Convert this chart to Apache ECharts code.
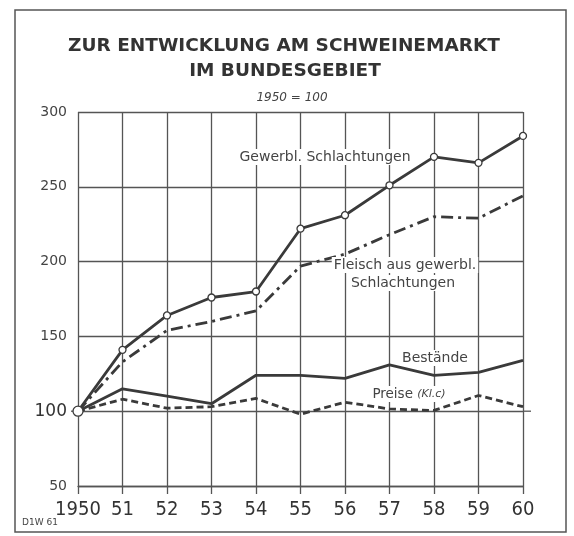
<!DOCTYPE html>
<html><head><meta charset="utf-8">
<script src="https://cdn.jsdelivr.net/npm/echarts@6/dist/echarts.min.js"></script>
<style>html,body{margin:0;padding:0;background:#fff}#c{width:574px;height:536px}</style>
</head><body><div id="c"></div>
<script>
var years = ['1950','51','52','53','54','55','56','57','58','59','60'];
var gewerbl = [100,141,164,176,180,222,231,251,270,266,284];
var fleisch = [100,133,154,160,167,197,205,218,230,229,244];
var bestaende = [100,115,110,105,124,124,122,131,124,126,134];
var preise = [100,108,102,103,108.5,98,106,101.5,100.5,110.5,103];
var yMin = 50, yMax = 300, yStep = 50;

var ink = '#3a3a3a';
var chart = echarts.init(document.getElementById('c'), null, {renderer:'canvas'});
var lbl = {fontFamily:'DejaVu Sans', fontSize:14, fill:'#444', backgroundColor:'#fff', padding:[1,2]};
function txt(x,y,t,extra){ return Object.assign({type:'text', x:x, y:y, z:50, style:Object.assign({}, lbl, {text:t, align:'center', verticalAlign:'middle'}, extra||{})}); }

chart.setOption({
  animation:false,
  backgroundColor:'#fff',
  grid:{left:78, right:51, top:112, bottom:50},
  xAxis:{type:'category', data:years, boundaryGap:false,
    axisLine:{show:true, lineStyle:{color:'#555', width:1.3}},
    axisTick:{show:true, interval:0, length:8, lineStyle:{color:'#555', width:1.3}},
    splitLine:{show:true, interval:0, lineStyle:{color:'#555', width:1.3}},
    axisLabel:{interval:0, fontFamily:'"Liberation Sans Narrow", "DejaVu Sans Condensed", "DejaVu Sans"', fontSize:20, color:'#333', margin:14}},
  yAxis:{type:'value', min:yMin, max:yMax, interval:yStep,
    axisLine:{show:false}, axisTick:{show:false},
    splitLine:{show:true, lineStyle:{color:'#555', width:1.3}},
    axisLabel:{margin:11, fontFamily:'DejaVu Sans', fontSize:14, color:'#444',
      formatter:function(v){ return v===100 ? '{b|100}' : String(v); },
      rich:{b:{fontFamily:'DejaVu Sans', fontSize:17, color:'#333'}}}},
  series:[
    {name:'Gewerbl. Schlachtungen', type:'line', data:gewerbl, z:5,
      symbol:'circle', symbolSize:function(v,p){return p.dataIndex===0?10:7;}, showAllSymbol:true,
      itemStyle:{color:'#fff', borderColor:ink, borderWidth:1.3},
      lineStyle:{color:ink, width:2.8}},
    {name:'Fleisch aus gewerbl. Schlachtungen', type:'line', data:fleisch, z:4, symbol:'none',
      lineStyle:{color:ink, width:2.8, type:[12,5,3,5]}},
    {name:'Bestände', type:'line', data:bestaende, z:4, symbol:'none',
      lineStyle:{color:ink, width:2.8}},
    {name:'Preise', type:'line', data:preise, z:4, symbol:'none',
      lineStyle:{color:ink, width:2.8, type:[7,4]}}
  ]
});

var p0 = chart.convertToPixel({xAxisIndex:0, yAxisIndex:0}, ['1950', 100]);
var p1 = chart.convertToPixel({xAxisIndex:0, yAxisIndex:0}, ['60', 100]);

chart.setOption({graphic:[
  {type:'rect', shape:{x:15, y:10, width:551, height:522}, style:{fill:'none', stroke:'#555', lineWidth:1.5}, z:1},
  {type:'text', x:284, y:46, style:{text:'ZUR ENTWICKLUNG AM SCHWEINEMARKT', fontFamily:'DejaVu Sans', fontWeight:'bold', fontSize:18.5, fill:'#333', align:'center', verticalAlign:'middle'}},
  {type:'text', x:285, y:71, style:{text:'IM BUNDESGEBIET', fontFamily:'DejaVu Sans', fontWeight:'bold', fontSize:18.5, fill:'#333', align:'center', verticalAlign:'middle'}},
  {type:'text', x:292, y:98, style:{text:'1950 = 100', fontFamily:'DejaVu Sans', fontStyle:'italic', fontSize:12, fill:'#444', align:'center', verticalAlign:'middle'}},
  {type:'line', shape:{x1:p1[0], y1:p1[1], x2:p1[0]+8, y2:p1[1]}, style:{stroke:'#555', lineWidth:1.3}},
  {type:'line', shape:{x1:p0[0]-7, y1:p0[1], x2:p0[0], y2:p0[1]}, style:{stroke:'#555', lineWidth:1.3}},
  txt(325,157,'Gewerbl. Schlachtungen'),
  txt(405,265,'Fleisch aus gewerbl.'),
  txt(403,283,'Schlachtungen'),
  txt(435,358,'Bestände'),
  {type:'text', x:409, y:394, z:50, style:{text:'{a|Preise }{b|(Kl.c)}', align:'center', verticalAlign:'middle', backgroundColor:'#fff', padding:[1,2],
     rich:{a:{fontFamily:'DejaVu Sans', fontSize:13.5, fill:'#444'}, b:{fontFamily:'DejaVu Sans', fontStyle:'italic', fontSize:11, fill:'#444'}}}},
  {type:'text', x:22, y:523, style:{text:'D1W 61', fontFamily:'DejaVu Sans', fontSize:9, fill:'#444', verticalAlign:'middle'}}
]});
</script></body></html>
